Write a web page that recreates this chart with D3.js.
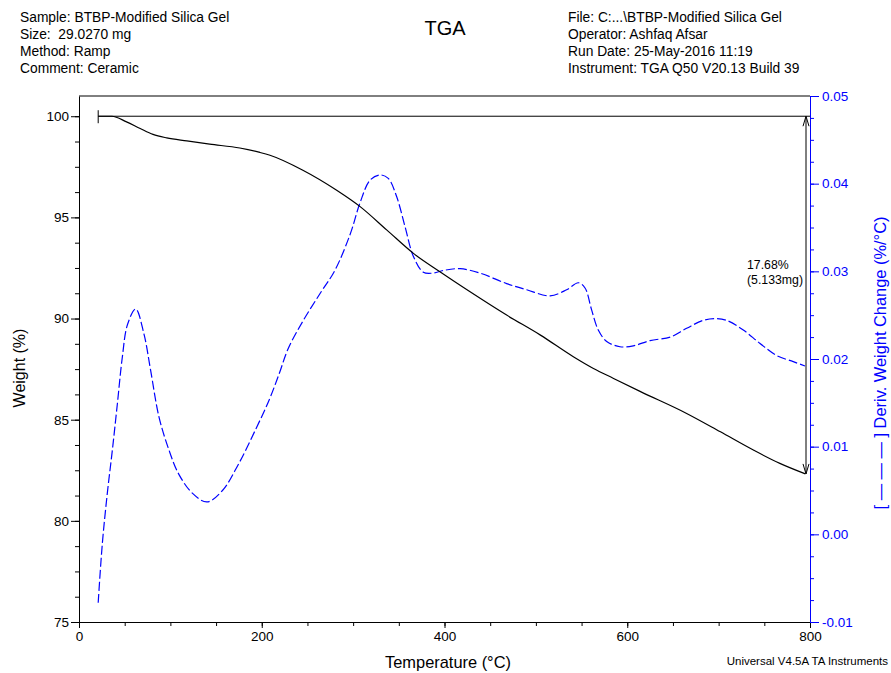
<!DOCTYPE html>
<html>
<head>
<meta charset="utf-8">
<script src="https://cdn.jsdelivr.net/npm/d3@7"></script>
<style>
body { margin: 0; background: #fff; }
text { font-family: "Liberation Sans", Arial, sans-serif; }
</style>
</head>
<body>
<div id="chart"></div>
<script>
'use strict';

// weight curve (black, left axis)
var tempW  = [21, 36, 52, 67, 81, 96, 118, 143, 176, 198, 209, 245, 282, 308, 337, 366, 395, 428,
              468, 505, 541, 563, 585, 614, 665, 702, 738, 767, 795];
var weight = [100, 100, 99.72, 99.39, 99.10, 98.93, 98.78, 98.62, 98.43, 98.21, 98.07, 97.33, 96.34,
              95.52, 94.37, 93.22, 92.31, 91.32, 90.17, 89.18, 88.11, 87.53, 87.04, 86.40,
              85.31, 84.40, 83.50, 82.84, 82.32];

// derivative curve (blue dashed, right axis)
var tempD = [21, 25.5, 31, 36.5, 42, 47.4, 53, 62, 71, 78.4, 87.5, 98.5, 109, 124, 140, 157, 175, 193,
             208, 219, 229, 245.5, 264, 280, 297, 307.5, 318.5, 329.4, 338.5, 347.7, 356.8, 366, 376.8,
             387.8, 398.7, 417, 439, 468, 490, 515.5, 533.7, 546.5, 553.8, 561, 568.3, 577.5, 592,
             606.6, 625, 647, 665, 683, 698, 709, 727, 745, 763.5, 781.7, 794.5];
var deriv = [-0.0078, -0.0011, 0.0047, 0.0096, 0.0149, 0.0202, 0.0239, 0.0257, 0.0229, 0.0187, 0.0134,
             0.0096, 0.0069, 0.0047, 0.0037, 0.0050, 0.0081, 0.0119, 0.0153, 0.0183, 0.0212, 0.0244,
             0.0275, 0.0301, 0.0343, 0.0378, 0.0404, 0.0410, 0.0406, 0.0385, 0.0351, 0.0317, 0.0299,
             0.0298, 0.0301, 0.0303, 0.0298, 0.0286, 0.0279, 0.0272, 0.0279, 0.0287, 0.0281, 0.0256,
             0.0233, 0.0220, 0.0214, 0.0215, 0.0221, 0.0225, 0.0235, 0.0244, 0.0246, 0.0244, 0.0233,
             0.0218, 0.0204, 0.0197, 0.0192];

var xTicks  = [0, 200, 400, 600, 800];
var yTicks  = [75, 80, 85, 90, 95, 100];
var y2Ticks = [-0.01, 0, 0.01, 0.02, 0.03, 0.04, 0.05];

var headerLeft  = ['Sample: BTBP-Modified Silica Gel', 'Size:  29.0270 mg', 'Method: Ramp', 'Comment: Ceramic'];
var headerRight = ['File: C:...\\BTBP-Modified Silica Gel', 'Operator: Ashfaq Afsar',
                   'Run Date: 25-May-2016 11:19', 'Instrument: TGA Q50 V20.13 Build 39'];
var stepLabel = ['17.68%', '(5.133mg)'];

var W = 891, H = 673;
var box = {left: 79, right: 810, top: 96, bottom: 622};

var svg = d3.select('#chart').append('svg')
    .attr('width', W)
    .attr('height', H);

var x  = d3.scaleLinear().domain([0, 800]).range([box.left, box.right]);
var y  = d3.scaleLinear().domain([75, 101]).range([box.bottom, box.top]);
var y2 = d3.scaleLinear().domain([-0.01, 0.05]).range([box.bottom, box.top]);

function styleAxis(g, color, size)
{
    g.selectAll('path, line').attr('stroke', color).attr('stroke-width', 1);
    g.selectAll('text').attr('fill', color).style('font-size', size + 'px')
        .style('font-family', '"Liberation Sans", Arial, sans-serif');
}

function minorAxis(axis, translate, values, color)
{
    var g = svg.append('g')
        .attr('transform', translate)
        .call(axis.tickValues(values).tickSize(4).tickFormat(''));
    g.select('.domain').remove();
    g.selectAll('line').attr('stroke', color);
}

// top frame
svg.append('line')
    .attr('x1', box.left).attr('x2', box.right)
    .attr('y1', box.top).attr('y2', box.top)
    .attr('stroke', '#000');

// minor ticks
minorAxis(d3.axisBottom(x), 'translate(0,' + box.bottom + ')', d3.range(0, 801, 50), '#000');
minorAxis(d3.axisLeft(y), 'translate(' + box.left + ',0)', d3.range(75, 101, 1.25), '#000');
minorAxis(d3.axisRight(y2), 'translate(' + box.right + ',0)', d3.range(-4, 21).map(function(i){ return i * 0.0025; }), '#0000ff');

// major axes
var gx = svg.append('g')
    .attr('transform', 'translate(0,' + box.bottom + ')')
    .call(d3.axisBottom(x).tickValues(xTicks).tickSize(6).tickSizeOuter(0).tickPadding(3));
styleAxis(gx, '#000', 13.5);

var gy = svg.append('g')
    .attr('transform', 'translate(' + box.left + ',0)')
    .call(d3.axisLeft(y).tickValues(yTicks).tickSize(8).tickSizeOuter(0).tickPadding(2));
styleAxis(gy, '#000', 13.5);

var gy2 = svg.append('g')
    .attr('transform', 'translate(' + box.right + ',0)')
    .call(d3.axisRight(y2).tickValues(y2Ticks).tickSize(9).tickSizeOuter(0).tickPadding(3)
        .tickFormat(function(d){ return d.toFixed(2); }));
styleAxis(gy2, '#0000ff', 13.5);

// curves
var weightLine = d3.line()
    .x(function(d){ return x(d[0]); })
    .y(function(d){ return y(d[1]); })
    .curve(d3.curveMonotoneX);

var derivLine = d3.line()
    .x(function(d){ return x(d[0]); })
    .y(function(d){ return y2(d[1]); })
    .curve(d3.curveCatmullRom);

svg.append('path')
    .datum(d3.zip(tempD, deriv))
    .attr('d', derivLine)
    .attr('fill', 'none')
    .attr('stroke', '#0000ff')
    .attr('stroke-width', 1.2)
    .attr('stroke-dasharray', '9,3');

svg.append('path')
    .datum(d3.zip(tempW, weight))
    .attr('d', weightLine)
    .attr('fill', 'none')
    .attr('stroke', '#000')
    .attr('stroke-width', 1.2);

// step annotation: start marker, 100% line, double arrow
var y0 = y(weight[0]);
var yEnd = y(weight[weight.length - 1]);
var xa = box.right - 4;

svg.append('line')
    .attr('x1', x(tempW[0])).attr('x2', x(tempW[0]))
    .attr('y1', y0 - 6).attr('y2', y0 + 7)
    .attr('stroke', '#000');
svg.append('line')
    .attr('x1', x(tempW[0])).attr('x2', box.right)
    .attr('y1', y0).attr('y2', y0)
    .attr('stroke', '#000');
svg.append('line')
    .attr('x1', xa).attr('x2', xa)
    .attr('y1', y0).attr('y2', yEnd)
    .attr('stroke', '#000');
svg.append('path')
    .attr('d', 'M' + (xa - 3) + ',' + (y0 + 10) + 'L' + xa + ',' + y0 + 'L' + (xa + 3) + ',' + (y0 + 10))
    .attr('fill', 'none').attr('stroke', '#000');
svg.append('path')
    .attr('d', 'M' + (xa - 3) + ',' + (yEnd - 10) + 'L' + xa + ',' + yEnd + 'L' + (xa + 3) + ',' + (yEnd - 10))
    .attr('fill', 'none').attr('stroke', '#000');

svg.selectAll('.step')
    .data(stepLabel)
    .enter()
    .append('text')
    .attr('class', 'step')
    .attr('x', 747)
    .attr('y', function(d, i){ return 269 + i * 15; })
    .style('font-size', '12.3px')
    .text(function(d){ return d; });

// header
svg.selectAll('.hl')
    .data(headerLeft)
    .enter()
    .append('text')
    .attr('class', 'hl')
    .attr('x', 20)
    .attr('y', function(d, i){ return 22 + i * 17; })
    .style('font-size', '13.8px')
    .style('white-space', 'pre')
    .text(function(d){ return d; });

svg.selectAll('.hr')
    .data(headerRight)
    .enter()
    .append('text')
    .attr('class', 'hr')
    .attr('x', 568)
    .attr('y', function(d, i){ return 22 + i * 17; })
    .style('font-size', '13.8px')
    .text(function(d){ return d; });

svg.append('text')
    .attr('x', 445).attr('y', 35)
    .attr('text-anchor', 'middle')
    .style('font-size', '20px')
    .text('TGA');

// axis titles
svg.append('text')
    .attr('transform', 'translate(25,368) rotate(-90)')
    .attr('text-anchor', 'middle')
    .style('font-size', '16px')
    .text('Weight (%)');

svg.append('text')
    .attr('x', 448).attr('y', 668)
    .attr('text-anchor', 'middle')
    .style('font-size', '16.4px')
    .text('Temperature (°C)');

svg.append('text')
    .attr('transform', 'translate(886,363) rotate(-90)')
    .attr('text-anchor', 'middle')
    .attr('fill', '#0000ff')
    .style('font-size', '16.4px')
    .style('white-space', 'pre')
    .text('[ — — — ] Deriv. Weight Change (%/°C)');

svg.append('text')
    .attr('x', 888).attr('y', 665)
    .attr('text-anchor', 'end')
    .style('font-size', '11.5px')
    .text('Universal V4.5A TA Instruments');
</script>
</body>
</html>
